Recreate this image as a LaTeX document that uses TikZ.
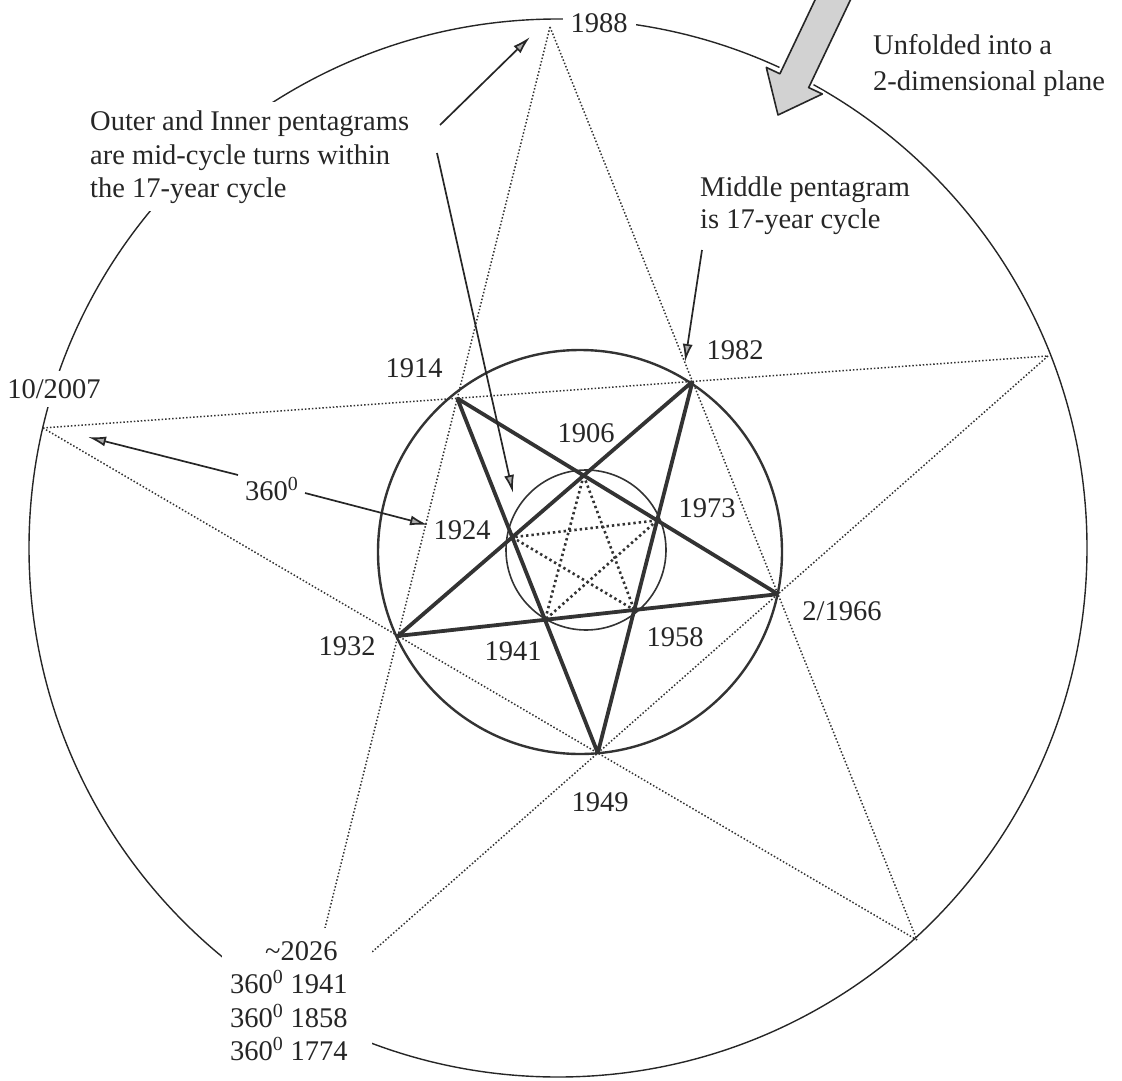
\documentclass[tikz,border=0pt]{standalone}
\usepackage{fontspec}
\setmainfont{Liberation Serif}
\usetikzlibrary{arrows.meta}
\begin{document}
\begin{tikzpicture}[x=1pt,y=-1pt,line join=round,
  txt/.style={font=\fontsize{28.5}{34}\selectfont, inner sep=0pt, text=black!85},
  gapbox/.style={fill=white, inner sep=8pt},
  outerdot/.style={line width=1.5pt, dash pattern=on 1.5pt off 2pt, black!80},
  innerdot/.style={line width=2.6pt, dash pattern=on 2.4pt off 3pt, black!80},
  starline/.style={line width=3.8pt, black!80},
  callout/.style={line width=1.7pt, black!85, -{Latex[length=18pt,width=10pt,fill=gray!65]}}]
\useasboundingbox (0,0) rectangle (1122,1081);
\clip (0,0) rectangle (1122,1081);

% outer pentagram vertices
\coordinate (O1) at (550,27);
\coordinate (O2) at (1048,356);
\coordinate (O3) at (917,940);
\coordinate (O4) at (304,1012);
\coordinate (O5) at (43,428);
% middle pentagram vertices
\coordinate (M1914) at (intersection of O1--O4 and O5--O2);
\coordinate (M1982) at (intersection of O1--O3 and O5--O2);
\coordinate (M1966) at (intersection of O1--O3 and O2--O4);
\coordinate (M1949) at (intersection of O2--O4 and O5--O3);
\coordinate (M1932) at (intersection of O5--O3 and O1--O4);
% inner points
\coordinate (I1906) at (intersection of M1914--M1966 and M1982--M1932);
\coordinate (I1973) at (intersection of M1914--M1966 and M1982--M1949);
\coordinate (I1958) at (intersection of M1982--M1949 and M1932--M1966);
\coordinate (I1941) at (intersection of M1932--M1966 and M1914--M1949);
\coordinate (I1924) at (intersection of M1914--M1949 and M1982--M1932);

% outer circle
\draw[line width=1.4pt, black!85] (558,548) circle[radius=529pt];
% outer pentagram
\draw[outerdot] (O1) -- (O3) (O1) -- (O4) (O5) -- (O2) (O5) -- (O3) (O2) -- (O4);
% circles
\draw[line width=2.4pt, black!80] (580,552) circle[radius=202pt];
\draw[line width=1.6pt, black!80] (586,550) circle[radius=80pt];
% inner pentagram
\draw[innerdot] (I1906) -- (I1958) (I1906) -- (I1941) (I1973) -- (I1941) (I1973) -- (I1924) (I1924) -- (I1958);
% middle pentagram
\draw[starline] (M1914) -- (M1966) (M1914) -- (M1949) (M1982) -- (M1932) (M1982) -- (M1949) (M1932) -- (M1966);

% white boxes cutting the outer circle
\fill[white] (82,102) rectangle (430,211);
\fill[white] (222,928) rectangle (372,1090);

% big unfolding arrow
\draw[white, line width=6pt] (831.5,-34.6) -- (779.9,73.8) -- (766.3,67.4) -- (778,115) -- (822.3,94) -- (808.7,87.6) -- (860.3,-20.8) -- cycle;
\draw[line width=1.6pt, black!85, fill=gray!35] (831.5,-34.6) -- (779.9,73.8) -- (766.3,67.4) -- (778,115) -- (822.3,94) -- (808.7,87.6) -- (860.3,-20.8) -- cycle;

% labels
\node[txt, gapbox] (l1988) at (599,23) {1988};
\node[txt, gapbox] (l2007) at (54,389) {10/2007};
\node[txt, anchor=base west] (unf1) at (873,55) {Unfolded into a};
\node[txt, anchor=base west] (unf2) at (873,90) {2-dimensional plane};
\node[txt, anchor=base west] (oi1) at (90,130) {Outer and Inner pentagrams};
\node[txt, anchor=base west] (oi2) at (90,164) {are mid-cycle turns within};
\node[txt, anchor=base west] (oi3) at (90,197) {the 17-year cycle};
\node[txt, anchor=base west] (mp1) at (700,196) {Middle pentagram};
\node[txt, anchor=base west] (mp2) at (700,228) {is 17-year cycle};
\node[txt, anchor=base west] (l360) at (245,500) {360\textsuperscript{0}};
\node[txt] (l1914) at (414,368) {1914};
\node[txt] (l1982) at (735,350) {1982};
\node[txt] (l1906) at (586,433) {1906};
\node[txt] (l1973) at (707,508) {1973};
\node[txt] (l1924) at (462,530) {1924};
\node[txt] (l1958) at (675,637) {1958};
\node[txt] (l1941) at (513,651) {1941};
\node[txt] (l1932) at (347,646) {1932};
\node[txt] (l1966) at (842,611) {2/1966};
\node[txt] (l1949) at (600,802) {1949};
\node[txt, anchor=base west] (b1) at (265,960) {\textasciitilde2026};
\node[txt, anchor=base west] (b2) at (230,993) {360\textsuperscript{0} 1941};
\node[txt, anchor=base west] (b3) at (230,1027) {360\textsuperscript{0} 1858};
\node[txt, anchor=base west] (b4) at (230,1060) {360\textsuperscript{0} 1774};

% callout arrows
\coordinate (a1s) at (440,125); \coordinate (a1e) at (530,37);
\coordinate (a2s) at (437,153); \coordinate (a2e) at (513,493);
\coordinate (a3s) at (702,250); \coordinate (a3e) at (685,362);
\coordinate (a4s) at (238,475); \coordinate (a4e) at (88,437);
\coordinate (a5s) at (305,493); \coordinate (a5e) at (428,525);
\draw[callout] (a1s) -- (a1e);
\draw[callout] (a2s) -- (a2e);
\draw[callout] (a3s) -- (a3e);
\draw[callout] (a4s) -- (a4e);
\draw[callout] (a5s) -- (a5e);
\end{tikzpicture}
\end{document}
